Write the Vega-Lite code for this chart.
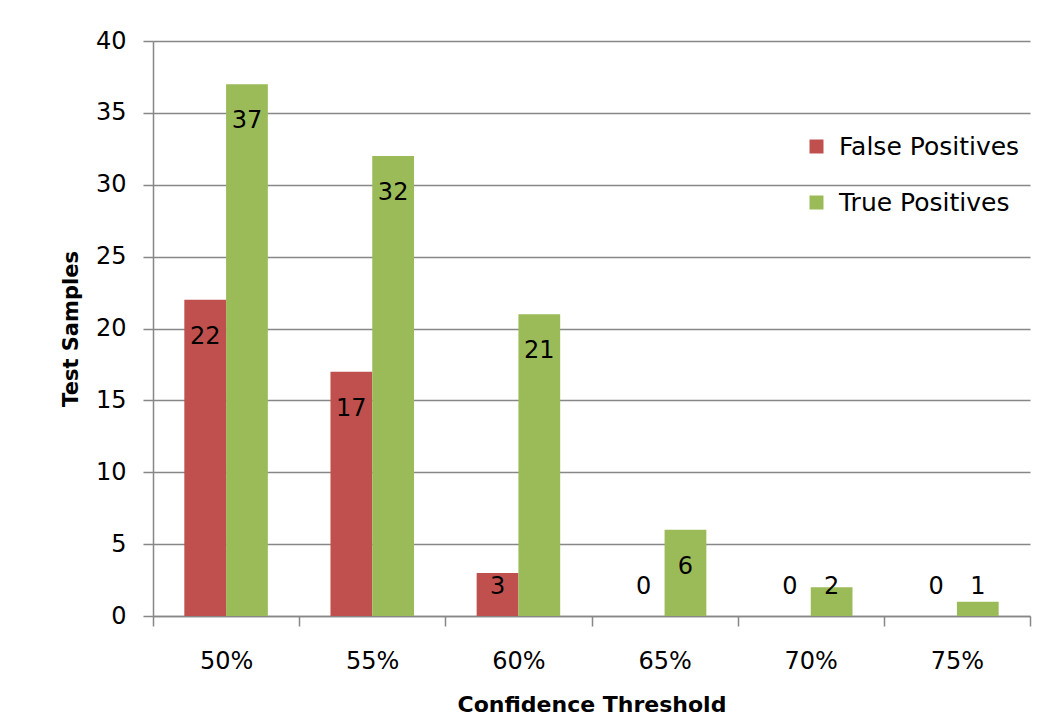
{
  "$schema": "https://vega.github.io/schema/vega-lite/v6.json",
  "width": 877,
  "height": 575,
  "autosize": {"type": "none"},
  "padding": {"left": 153, "top": 41, "right": 27, "bottom": 110},
  "background": "white",
  "config": {
    "view": {"stroke": null},
    "font": "DejaVu Sans",
    "axis": {"labelColor": "#000000", "titleColor": "#000000"}
  },
  "data": {
    "values": [
      {"threshold": "50%", "series": "False Positives", "value": 22},
      {"threshold": "50%", "series": "True Positives", "value": 37},
      {"threshold": "55%", "series": "False Positives", "value": 17},
      {"threshold": "55%", "series": "True Positives", "value": 32},
      {"threshold": "60%", "series": "False Positives", "value": 3},
      {"threshold": "60%", "series": "True Positives", "value": 21},
      {"threshold": "65%", "series": "False Positives", "value": 0},
      {"threshold": "65%", "series": "True Positives", "value": 6},
      {"threshold": "70%", "series": "False Positives", "value": 0},
      {"threshold": "70%", "series": "True Positives", "value": 2},
      {"threshold": "75%", "series": "False Positives", "value": 0},
      {"threshold": "75%", "series": "True Positives", "value": 1}
    ]
  },
  "encoding": {
    "x": {
      "field": "threshold",
      "type": "nominal",
      "sort": ["50%", "55%", "60%", "65%", "70%", "75%"],
      "scale": {"paddingInner": 0, "paddingOuter": 0},
      "axis": {
        "title": "Confidence Threshold",
        "titleFontSize": 22,
        "titleFontWeight": "bold",
        "titlePadding": 21,
        "labelFontSize": 24,
        "labelAngle": 0,
        "labelPadding": 23,
        "tickBand": "extent",
        "tickSize": 10,
        "tickColor": "#878787",
        "tickWidth": 1.5,
        "domainColor": "#878787",
        "domainWidth": 1.5,
        "grid": false
      }
    },
    "xOffset": {
      "field": "series",
      "type": "nominal",
      "sort": ["False Positives", "True Positives"],
      "scale": {"paddingInner": 0, "paddingOuter": 0.75}
    }
  },
  "layer": [
    {
      "mark": {"type": "bar"},
      "encoding": {
        "y": {
          "field": "value",
          "type": "quantitative",
          "scale": {"domain": [0, 40], "nice": false},
          "axis": {
            "title": "Test Samples",
            "titleFontSize": 21,
            "titleFontWeight": "bold",
            "titlePadding": 14,
            "values": [0, 5, 10, 15, 20, 25, 30, 35, 40],
            "labelFontSize": 24,
            "labelPadding": 17,
            "tickSize": 10,
            "tickColor": "#878787",
            "tickWidth": 1.5,
            "domainColor": "#878787",
            "domainWidth": 1.5,
            "grid": true,
            "gridColor": "#878787",
            "gridWidth": 1.5
          }
        },
        "color": {
          "field": "series",
          "type": "nominal",
          "scale": {
            "domain": ["False Positives", "True Positives"],
            "range": ["#C0504D", "#9BBB59"]
          },
          "legend": {
            "title": null,
            "orient": "none",
            "legendX": 651,
            "legendY": 93,
            "symbolType": "square",
            "symbolSize": 196,
            "symbolStrokeWidth": 0,
            "labelFontSize": 25,
            "labelLimit": 400,
            "labelColor": "#000000",
            "labelOffset": 10,
            "rowPadding": 30
          }
        }
      }
    },
    {
      "transform": [{"filter": "datum.value >= 5"}],
      "mark": {"type": "text", "fontSize": 24, "color": "#000000", "baseline": "middle", "dy": 37},
      "encoding": {
        "y": {"field": "value", "type": "quantitative"},
        "text": {"field": "value", "type": "quantitative"}
      }
    },
    {
      "transform": [{"filter": "datum.value < 5"}],
      "mark": {"type": "text", "fontSize": 24, "color": "#000000", "baseline": "middle", "dy": -29},
      "encoding": {
        "y": {"datum": 0},
        "text": {"field": "value", "type": "quantitative"}
      }
    }
  ]
}
